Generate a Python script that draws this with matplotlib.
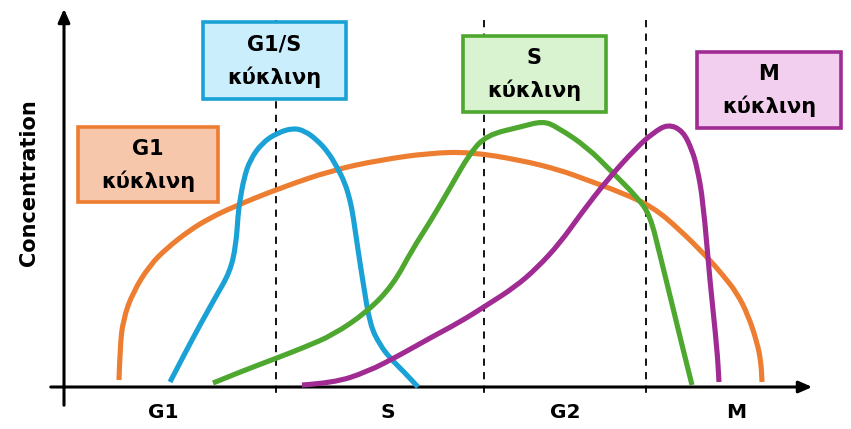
import numpy as np
import matplotlib.pyplot as plt
from matplotlib.path import Path
from matplotlib.patches import PathPatch

# curves (pixel-like units: x right, y down)
g1_x = [119, 120, 123, 133, 150, 167, 190, 210, 233, 280, 333, 380, 430, 470, 520, 560, 587, 620, 653, 680, 707, 722, 737, 748, 757, 761, 762]
g1_y = [380, 348, 320, 292, 265, 248, 230, 218, 207, 188, 170, 160, 153, 152, 160, 170, 180, 192, 207, 230, 257, 274, 293, 315, 342, 362, 382]

g1s_x = [170, 185, 200, 215, 230, 236, 238, 240, 244, 250, 262, 277, 293, 305, 317, 328, 337, 345, 350, 353, 358, 363, 370, 380, 390, 405, 418]
g1s_y = [382, 353, 325, 298, 272, 245, 215, 200, 178, 160, 143, 133, 128, 131, 140, 152, 167, 183, 200, 215, 250, 282, 325, 345, 358, 373, 387]

s_x = [213, 245, 277, 305, 333, 367, 393, 412, 430, 450, 470, 487, 520, 543, 557, 587, 613, 637, 650, 660, 673, 682, 692]
s_y = [383, 370, 358, 347, 335, 312, 285, 250, 222, 188, 153, 135, 127, 121, 127, 147, 173, 197, 215, 255, 308, 345, 385]

m_x = [302, 333, 367, 400, 430, 460, 487, 515, 537, 560, 580, 607, 637, 653, 668, 683, 692, 697, 703, 710, 717, 719]
m_y = [385, 383, 372, 355, 338, 322, 305, 287, 268, 243, 215, 180, 147, 133, 124, 131, 150, 167, 200, 282, 348, 382]

phase_names = ['G1', 'S', 'G2', 'M']
phase_x = [163, 388, 565, 736]
boundaries = [276, 484, 646]

box_titles = ['G1', 'G1/S', 'S', 'M']
box_word = 'κύκλινη'
box_xy = [(78, 127, 218, 202), (203, 22, 346, 99), (463, 36, 606, 112), (697, 52, 841, 128)]

edge_cols = ['#ed7d31', '#1aa1d6', '#4ea72e', '#a02b93']
face_cols = ['#f7c7ac', '#caeefb', '#d9f2d0', '#f2cfee']

plt.rcParams['font.family'] = ['DejaVu Sans']


def smooth_path(xs, ys):
    # quadratic bezier through midpoints, read points act as control points
    verts = [(xs[0], ys[0])]
    codes = [Path.MOVETO]
    for i in range(1, len(xs) - 1):
        verts.append((xs[i], ys[i]))
        verts.append(((xs[i] + xs[i + 1]) / 2, (ys[i] + ys[i + 1]) / 2))
        codes += [Path.CURVE3, Path.CURVE3]
    verts.append((xs[-1], ys[-1]))
    codes.append(Path.LINETO)
    return Path(verts, codes)


fig = plt.figure(figsize=(8.51, 4.29), dpi=100)
ax = fig.add_axes([0, 0, 1, 1])
ax.set_xlim(0, 851)
ax.set_ylim(429, 0)
ax.axis('off')

# axes with arrows
ax.annotate('', xy=(815, 387), xytext=(48, 387),
            arrowprops=dict(arrowstyle='-|>,head_length=0.8,head_width=0.35', color='black', lw=2.2))
ax.annotate('', xy=(64, 6), xytext=(64, 408),
            arrowprops=dict(arrowstyle='-|>,head_length=0.8,head_width=0.35', color='black', lw=2.2))

for b in boundaries:
    ax.plot([b, b], [20, 393], color='black', lw=1.3, ls=(0, (4, 3.5)), zorder=1)

curves = [(g1_x, g1_y), (g1s_x, g1s_y), (s_x, s_y), (m_x, m_y)]
for (cx, cy), c in zip(curves, edge_cols):
    p = PathPatch(smooth_path(cx, cy), facecolor='none', edgecolor=c, lw=3.7,
                  joinstyle='round', capstyle='butt', zorder=3)
    ax.add_patch(p)

for name, x in zip(phase_names, phase_x):
    ax.text(x, 413, name, ha='center', va='center', fontsize=14.5, fontweight='bold')

ax.text(29, 183, 'Concentration', rotation=90, ha='center', va='center', fontsize=15, fontweight='bold')

for t, (x0, y0, x1, y1), ec, fc in zip(box_titles, box_xy, edge_cols, face_cols):
    r = plt.Rectangle((x0, y0), x1 - x0, y1 - y0, facecolor=fc, edgecolor=ec, lw=2.6, zorder=4)
    ax.add_patch(r)
    xm = (x0 + x1) / 2
    ax.text(xm, y0 + (y1 - y0) * 0.29, t, ha='center', va='center', fontsize=15, fontweight='bold', zorder=5)
    ax.text(xm, y0 + (y1 - y0) * 0.72, box_word, ha='center', va='center', fontsize=15, fontweight='bold', zorder=5)

fig.savefig('out.png', dpi=100)
